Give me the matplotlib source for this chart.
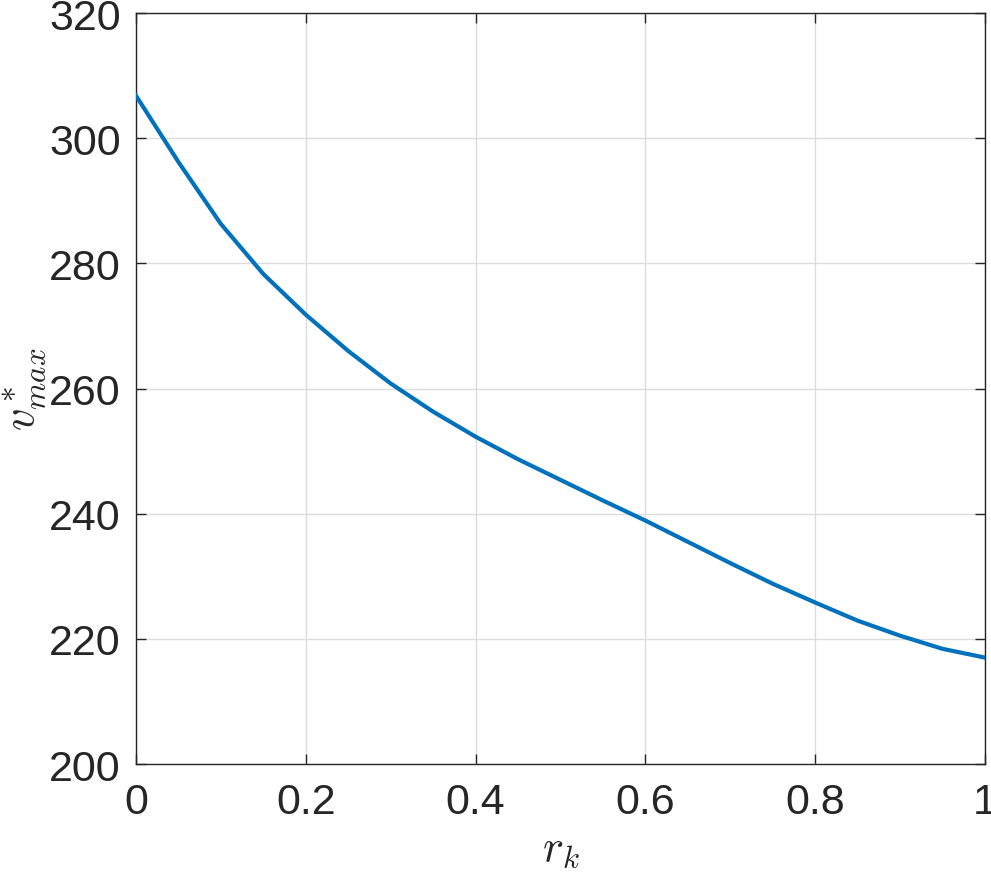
import numpy as np
import matplotlib
matplotlib.use('Agg')
import matplotlib.pyplot as plt

plt.rcParams['font.family'] = ['Liberation Sans', 'DejaVu Sans']
plt.rcParams['mathtext.fontset'] = 'cm'

# values
r_k = [0, 0.05, 0.1, 0.15, 0.2, 0.25, 0.3, 0.35, 0.4, 0.45, 0.5,
       0.55, 0.6, 0.65, 0.7, 0.75, 0.8, 0.85, 0.9, 0.95, 1.0]
v_max = [306.8, 296.2, 286.3, 278.3, 271.8, 266.0, 260.8, 256.3, 252.3, 248.7, 245.4,
         242.1, 238.9, 235.5, 232.1, 228.8, 225.8, 222.9, 220.5, 218.4, 217.0]

xticks = [0, 0.2, 0.4, 0.6, 0.8, 1]
xticklabels = ['0', '0.2', '0.4', '0.6', '0.8', '1']
yticks = [200, 220, 240, 260, 280, 300, 320]

fig = plt.figure(figsize=(9.91, 8.78), dpi=100)
ax = fig.add_axes([0.1372, 0.1287, 0.8568, 0.8553])

ax.plot(r_k, v_max, color='#0072BD', lw=3.0, zorder=3,
        solid_joinstyle='round')

ax.set_xlim(0, 1)
ax.set_ylim(200, 320)
ax.set_xticks(xticks)
ax.set_xticklabels(xticklabels)
ax.set_yticks(yticks)

ax.grid(True, color='#dcdcdc', lw=1.0)
ax.set_axisbelow(True)

for s in ax.spines.values():
    s.set_color('#262626')
    s.set_linewidth(1.0)

ax.tick_params(direction='in', length=7, width=1.0, colors='#262626',
               labelsize=31, top=True, right=True)
ax.tick_params(axis='x', pad=13)
ax.tick_params(axis='y', pad=11)

ax.set_xlabel(r'$r_k$', fontsize=32, color='#262626', labelpad=4)
ax.set_ylabel(r'$v^*_{max}$', fontsize=32, color='#262626')
ax.yaxis.set_label_coords(-0.104, 0.5)

plt.savefig('out.png', dpi=100)
